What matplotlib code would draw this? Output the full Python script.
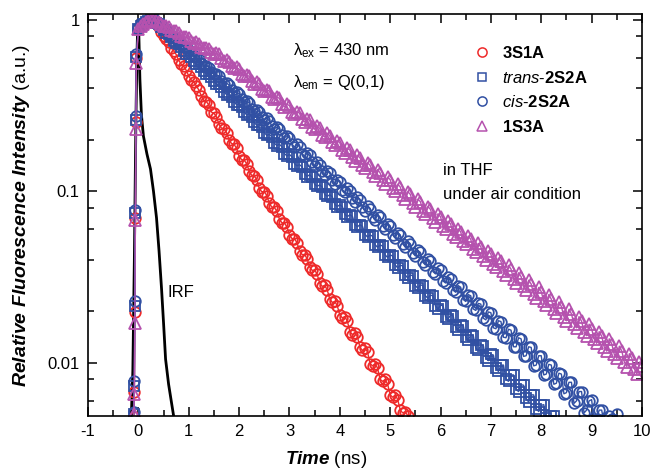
import numpy as np
import matplotlib
matplotlib.use('Agg')
from matplotlib import pyplot as plt
from matplotlib.lines import Line2D
from matplotlib.ticker import MultipleLocator, LogLocator, NullFormatter, FuncFormatter

plt.rcParams['font.family'] = ['Liberation Sans', 'DejaVu Sans']
plt.rcParams['axes.unicode_minus'] = False
plt.rcParams['mathtext.fontset'] = 'custom'
plt.rcParams['mathtext.rm'] = 'Liberation Sans'
plt.rcParams['mathtext.it'] = 'Liberation Sans:italic'
plt.rcParams['mathtext.bf'] = 'Liberation Sans:bold'
plt.rcParams['mathtext.bfit'] = 'Liberation Sans:italic:bold'

# rising edge (ns), shared by all samples
rise_t = [-0.09, -0.08, -0.07, -0.06, -0.05, -0.04]

# decay: *_decay at 0.0, 0.1, 0.2 ... ns, *_mid at 0.05, 0.15, 0.25 ... ns
red_rise = [0.0048, 0.0068, 0.0197, 0.070, 0.255, 0.60]
red_decay = [0.90, 0.96, 0.99, 1.00, 0.91, 0.80, 0.74, 0.66, 0.58, 0.535,
             0.47, 0.435, 0.39, 0.338, 0.318, 0.285, 0.246, 0.231, 0.200, 0.188,
             0.160, 0.152, 0.131, 0.123, 0.104, 0.0995, 0.0850, 0.0805, 0.0690, 0.0655,
             0.0560, 0.0530, 0.0450, 0.0428, 0.0362, 0.0348, 0.0292, 0.0283, 0.0236, 0.0228,
             0.0190, 0.0186, 0.0152, 0.0150, 0.0123, 0.0122, 0.0099, 0.0099, 0.0080, 0.0080,
             0.0065, 0.0065, 0.0053, 0.0052, 0.0044]
red_mid = [0.93, 0.975, 0.995, 0.955, 0.845, 0.775, 0.685, 0.628, 0.552, 0.508,
           0.446, 0.412, 0.360, 0.334, 0.290, 0.272, 0.234, 0.220, 0.190, 0.178,
           0.153, 0.145, 0.124, 0.117, 0.0995, 0.0945, 0.0810, 0.0765, 0.0655, 0.0618,
           0.0530, 0.0500, 0.0428, 0.0405, 0.0346, 0.0328, 0.0279, 0.0266, 0.0225, 0.0215,
           0.0183, 0.0175, 0.0146, 0.0142, 0.0118, 0.0116, 0.0096, 0.0093, 0.0078, 0.0075,
           0.0063, 0.0061, 0.0051, 0.0049]

trans_rise = [0.0050, 0.0073, 0.0215, 0.075, 0.262, 0.61]
trans_decay = [0.89, 0.95, 0.99, 1.00, 0.940, 0.868, 0.822, 0.755, 0.720, 0.658,
               0.630, 0.574, 0.550, 0.500, 0.481, 0.437, 0.420, 0.381, 0.367, 0.332,
               0.320, 0.290, 0.281, 0.252, 0.245, 0.220, 0.215, 0.191, 0.188, 0.166,
               0.164, 0.145, 0.143, 0.127, 0.125, 0.110, 0.109, 0.0960, 0.0955, 0.0840,
               0.0835, 0.0735, 0.0730, 0.0640, 0.0638, 0.0560, 0.0556, 0.0488, 0.0486, 0.0425,
               0.0425, 0.0372, 0.0370, 0.0325, 0.0325, 0.0282, 0.0285, 0.0246, 0.0248, 0.0214,
               0.0217, 0.0186, 0.0190, 0.0162, 0.0166, 0.0142, 0.0145, 0.0122, 0.0127, 0.0106,
               0.0112, 0.0093, 0.0097, 0.0080, 0.0085, 0.0070, 0.00745, 0.0062, 0.0065, 0.0054,
               0.00565, 0.00475, 0.0049, 0.0043, 0.0042]
trans_mid = [0.92, 0.97, 0.995, 0.960, 0.910, 0.835, 0.795, 0.728, 0.695, 0.635,
             0.608, 0.552, 0.532, 0.483, 0.465, 0.420, 0.406, 0.366, 0.355, 0.320,
             0.311, 0.279, 0.272, 0.243, 0.238, 0.212, 0.208, 0.185, 0.182, 0.161,
             0.159, 0.141, 0.139, 0.122, 0.121, 0.107, 0.106, 0.0935, 0.0930, 0.0815,
             0.0815, 0.0712, 0.0715, 0.0622, 0.0625, 0.0542, 0.0548, 0.0472, 0.0480, 0.0412,
             0.0420, 0.0358, 0.0368, 0.0312, 0.0322, 0.0272, 0.0282, 0.0238, 0.0246, 0.0206,
             0.0215, 0.0180, 0.0188, 0.0156, 0.0165, 0.0136, 0.0144, 0.0118, 0.0126, 0.0103,
             0.0111, 0.0089, 0.0097, 0.0078, 0.0085, 0.0068, 0.0074, 0.0059, 0.0065, 0.0052,
             0.0057, 0.0046, 0.0049, 0.0042]

cis_rise = [0.0052, 0.0078, 0.023, 0.078, 0.276, 0.63]
cis_decay = [0.90, 0.96, 0.99, 1.00, 0.945, 0.880, 0.845, 0.780, 0.750, 0.690,
             0.665, 0.612, 0.592, 0.541, 0.527, 0.480, 0.468, 0.425, 0.416, 0.376,
             0.369, 0.333, 0.328, 0.295, 0.291, 0.262, 0.258, 0.232, 0.230, 0.205,
             0.204, 0.181, 0.182, 0.160, 0.162, 0.141, 0.143, 0.125, 0.128, 0.111,
             0.113, 0.0985, 0.1000, 0.0870, 0.0890, 0.0770, 0.0792, 0.0680, 0.0705, 0.0602,
             0.0628, 0.0535, 0.0557, 0.0472, 0.0495, 0.0420, 0.0440, 0.0372, 0.0392, 0.0330,
             0.0348, 0.0292, 0.0310, 0.0258, 0.0276, 0.0228, 0.0246, 0.0202, 0.0220, 0.0178,
             0.0196, 0.0158, 0.0174, 0.0140, 0.0155, 0.0124, 0.0138, 0.0110, 0.0123, 0.0097,
             0.0110, 0.0086, 0.0097, 0.0076, 0.0086, 0.0067, 0.0077, 0.0060, 0.0068, 0.0053,
             0.0061, 0.0047, 0.0053, 0.0043, 0.0047, 0.0050]
cis_mid = [0.93, 0.975, 0.995, 0.975, 0.905, 0.868, 0.803, 0.772, 0.710, 0.686,
           0.630, 0.608, 0.558, 0.540, 0.494, 0.480, 0.438, 0.428, 0.388, 0.380,
           0.344, 0.337, 0.304, 0.300, 0.270, 0.266, 0.239, 0.237, 0.212, 0.211,
           0.188, 0.188, 0.166, 0.167, 0.148, 0.148, 0.131, 0.131, 0.116, 0.117,
           0.102, 0.104, 0.0910, 0.0925, 0.0805, 0.0825, 0.0712, 0.0730, 0.0630, 0.0648,
           0.0558, 0.0575, 0.0493, 0.0510, 0.0436, 0.0452, 0.0385, 0.0402, 0.0340, 0.0357,
           0.0300, 0.0318, 0.0265, 0.0282, 0.0234, 0.0250, 0.0206, 0.0222, 0.0182, 0.0198,
           0.0160, 0.0176, 0.0141, 0.0157, 0.0124, 0.0140, 0.0109, 0.0124, 0.0096, 0.0110,
           0.0085, 0.0098, 0.0075, 0.0087, 0.0066, 0.0077, 0.0058, 0.0068, 0.0051, 0.0060,
           0.0046, 0.0053, 0.0044, 0.0049, 0.0045]

s1_rise = [0.0050, 0.0066, 0.017, 0.068, 0.23, 0.56]
s1_decay = [0.88, 0.95, 0.985, 1.00, 0.97, 0.925, 0.905, 0.855, 0.840, 0.795,
            0.781, 0.737, 0.727, 0.683, 0.677, 0.632, 0.628, 0.578, 0.570, 0.522,
            0.516, 0.471, 0.468, 0.425, 0.424, 0.383, 0.384, 0.346, 0.348, 0.312,
            0.316, 0.282, 0.285, 0.254, 0.259, 0.230, 0.233, 0.207, 0.211, 0.186,
            0.192, 0.168, 0.174, 0.151, 0.157, 0.137, 0.142, 0.123, 0.128, 0.111,
            0.117, 0.100, 0.106, 0.0905, 0.0960, 0.0815, 0.0870, 0.0738, 0.0785, 0.0665,
            0.0710, 0.0600, 0.0645, 0.0543, 0.0580, 0.0490, 0.0525, 0.0443, 0.0475, 0.0400,
            0.0430, 0.0360, 0.0390, 0.0325, 0.0352, 0.0294, 0.0318, 0.0265, 0.0288, 0.0240,
            0.0260, 0.0217, 0.0235, 0.0195, 0.0213, 0.0176, 0.0193, 0.0160, 0.0175, 0.0144,
            0.0158, 0.0130, 0.0143, 0.0117, 0.0129, 0.0106, 0.0117, 0.0095, 0.0106, 0.0086,
            0.0096]
s1_mid = [0.92, 0.97, 0.995, 0.99, 0.940, 0.920, 0.872, 0.855, 0.810, 0.795,
          0.752, 0.740, 0.698, 0.688, 0.648, 0.640, 0.596, 0.582, 0.538, 0.528,
          0.486, 0.478, 0.438, 0.433, 0.396, 0.392, 0.357, 0.355, 0.322, 0.322,
          0.290, 0.292, 0.263, 0.265, 0.238, 0.240, 0.214, 0.218, 0.193, 0.197,
          0.175, 0.178, 0.158, 0.162, 0.143, 0.147, 0.129, 0.134, 0.116, 0.121,
          0.105, 0.110, 0.0950, 0.0995, 0.0855, 0.0900, 0.0770, 0.0815, 0.0695, 0.0740,
          0.0628, 0.0670, 0.0567, 0.0605, 0.0512, 0.0548, 0.0462, 0.0497, 0.0418, 0.0450,
          0.0378, 0.0408, 0.0341, 0.0370, 0.0308, 0.0335, 0.0279, 0.0303, 0.0252, 0.0275,
          0.0228, 0.0250, 0.0206, 0.0226, 0.0186, 0.0205, 0.0168, 0.0186, 0.0152, 0.0168,
          0.0138, 0.0152, 0.0124, 0.0138, 0.0112, 0.0125, 0.0101, 0.0113, 0.0092, 0.0101]

irf_t = [-0.15, -0.11, -0.08, -0.05, -0.03, -0.01, 0.01, 0.03, 0.06, 0.10, 0.17,
         0.24, 0.30, 0.36, 0.41, 0.46, 0.50, 0.54, 0.60, 0.66, 0.72]
irf_y = [0.004, 0.009, 0.04, 0.25, 0.6, 1.0, 0.8, 0.45, 0.28, 0.21, 0.165,
         0.135, 0.10, 0.07, 0.045, 0.027, 0.017, 0.0105, 0.0075, 0.0058, 0.0045]

labels = [r'$\mathbf{3S1A}$', r'$\mathit{trans}$-$\mathbf{2S2A}$',
          r'$\mathit{cis}$-$\mathbf{2S2A}$', r'$\mathbf{1S3A}$']
colors = ['#ee2a2a', '#3150a3', '#3150a3', '#b552ae']
markers = ['o', 's', 'o', '^']
sizes = [7.6, 6.6, 7.6, 8.2]


def series(rise, decay, mid):
    t_dec = np.round(np.arange(len(decay)) * 0.1, 2)
    t_mid = np.round(0.05 + np.arange(len(mid)) * 0.1, 2)
    t = np.concatenate([t_dec, t_mid])
    y = np.concatenate([decay, mid])
    order = np.argsort(t)
    return np.concatenate([rise_t, t[order]]), np.concatenate([rise, y[order]])


fig = plt.figure(figsize=(6.54, 4.70), dpi=100)
ax = fig.add_axes([0.1346, 0.115, 0.847, 0.855])

data = [(red_rise, red_decay, red_mid), (trans_rise, trans_decay, trans_mid),
        (cis_rise, cis_decay, cis_mid), (s1_rise, s1_decay, s1_mid)]
for (r, d, m_), c, m, s in zip(data, colors, markers, sizes):
    t, y = series(r, d, m_)
    ax.plot(t, y, '-', color=c, lw=1.0, marker=m, ms=s, mfc='none', mec=c, mew=1.3)

ax.plot(irf_t, irf_y, '-', color='black', lw=2.0, zorder=1)

ax.set_yscale('log')
ax.set_xlim(-1, 10)
ax.set_ylim(0.0049, 1.08)
ax.xaxis.set_major_locator(MultipleLocator(1))
ax.xaxis.set_minor_locator(MultipleLocator(0.5))
ax.yaxis.set_major_locator(LogLocator(base=10, subs=(1.0,)))
ax.yaxis.set_minor_locator(LogLocator(base=10, subs=(2, 4, 6, 8)))
ax.yaxis.set_minor_formatter(NullFormatter())
ax.yaxis.set_major_formatter(FuncFormatter(lambda v, p: f'{v:g}'))
ax.tick_params(which='both', direction='in', top=True, right=True, width=1.1, labelsize=12)
ax.tick_params(which='major', length=6.5, pad=6)
ax.tick_params(which='minor', length=4)
for sp in ax.spines.values():
    sp.set_linewidth(1.2)

ax.set_xlabel(r'$\mathbfit{Time}$ (ns)', fontsize=13.5, va='center')
ax.xaxis.set_label_coords(0.43, -0.108)
ax.set_ylabel(r'$\mathbfit{Relative\ Fluorescence\ Intensity}$ (a.u.)', fontsize=14)
ax.yaxis.set_label_coords(-0.102, 0.5)

ax.text(0.37, 0.910, r'$\mathrm{\lambda}_{\mathrm{ex}}$ = 430 nm', transform=ax.transAxes,
        fontsize=12, va='center')
ax.text(0.37, 0.831, r'$\mathrm{\lambda}_{\mathrm{em}}$ = Q(0,1)', transform=ax.transAxes,
        fontsize=12, va='center')
ax.text(0.641, 0.612, 'in THF', transform=ax.transAxes, fontsize=12, va='center')
ax.text(0.641, 0.55, 'under air condition', transform=ax.transAxes, fontsize=12, va='center')
ax.text(0.143, 0.306, 'IRF', transform=ax.transAxes, fontsize=12, va='center')

handles = [Line2D([], [], ls='none', marker=m, ms=s - 1.0, mfc='none', mec=c, mew=1.1)
           for c, m, s in zip(colors, markers, sizes)]
ax.legend(handles, labels, loc='upper left', bbox_to_anchor=(0.685, 0.94), frameon=False,
          fontsize=12, handlelength=1.0, handletextpad=0.7, labelspacing=0.52,
          borderaxespad=0)

fig.savefig('out.png', dpi=100)
